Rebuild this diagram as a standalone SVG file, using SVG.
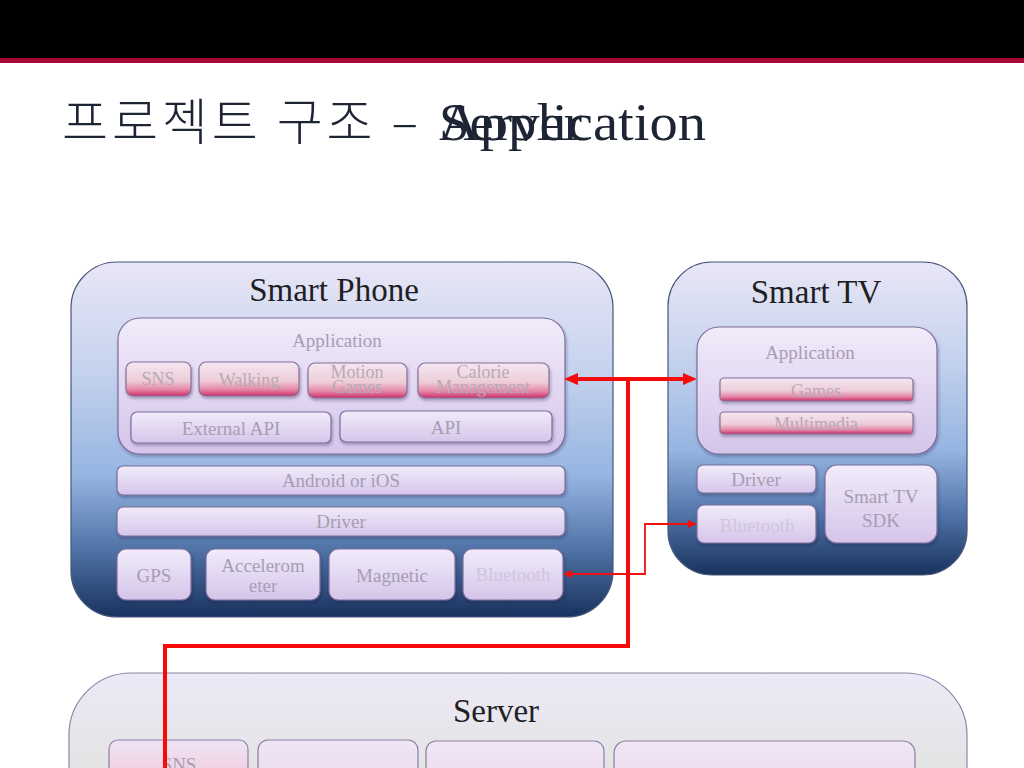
<svg xmlns="http://www.w3.org/2000/svg" width="1024" height="768" viewBox="0 0 1024 768">
<defs>
<style>
.serif{font-family:"Liberation Serif","DejaVu Serif",serif}
.ttl{font-family:"Liberation Serif","DejaVu Serif",serif;font-size:33px;fill:#1e1e24;text-anchor:middle}
.lbl{font-family:"Liberation Serif","DejaVu Serif",serif;font-size:19px;fill:#a79db2;text-anchor:middle}
.plbl{font-family:"Liberation Serif","DejaVu Serif",serif;font-size:18px;fill:#b8a9b6;text-anchor:middle}
.faint{fill:#cfc6dc}
.outer{fill:url(#blueBox);stroke:#45577a;stroke-width:1.2}
.inner{fill:url(#lav);stroke:#7b6e9c;stroke-width:1.2;filter:url(#sh)}
.pink{fill:url(#pinkG);stroke:#86709a;stroke-width:1.2;filter:url(#sh)}
.thick{stroke:#f70a0a;stroke-width:4;fill:none}
.thin{stroke:#f01010;stroke-width:1.8;fill:none}
</style>
<linearGradient id="blueBox" x1="0" y1="0" x2="0" y2="1">
<stop offset="0" stop-color="#e9e6f6"/>
<stop offset="0.3" stop-color="#c6d3ee"/>
<stop offset="0.6" stop-color="#96b5e1"/>
<stop offset="0.8" stop-color="#5376aa"/>
<stop offset="1" stop-color="#19325e"/>
</linearGradient>
<linearGradient id="lav" x1="0" y1="0" x2="0" y2="1">
<stop offset="0" stop-color="#f1ebfa"/>
<stop offset="1" stop-color="#d5c5ea"/>
</linearGradient>
<linearGradient id="pinkG" x1="0" y1="0" x2="0" y2="1">
<stop offset="0" stop-color="#f3e7f3"/>
<stop offset="0.55" stop-color="#edcdd7"/>
<stop offset="0.8" stop-color="#e58aa8"/>
<stop offset="1" stop-color="#cc2e6c"/>
</linearGradient>
<linearGradient id="srv" x1="0" y1="0" x2="0" y2="1">
<stop offset="0" stop-color="#ede9f7"/>
<stop offset="0.5" stop-color="#e3e3e3"/>
<stop offset="1" stop-color="#dcdcdc"/>
</linearGradient>
<linearGradient id="srvBox" x1="0" y1="0" x2="0" y2="1">
<stop offset="0" stop-color="#efe6f4"/>
<stop offset="1" stop-color="#ead6ec"/>
</linearGradient>
<linearGradient id="srvPink" x1="0" y1="0" x2="0" y2="1">
<stop offset="0" stop-color="#eee4f4"/>
<stop offset="1" stop-color="#f2bfd3"/>
</linearGradient>
<filter id="sh" x="-10%" y="-20%" width="120%" height="150%">
<feDropShadow dx="1" dy="2" stdDeviation="1.5" flood-color="#1a2040" flood-opacity="0.35"/>
</filter>
<marker id="ah" markerUnits="userSpaceOnUse" markerWidth="14" markerHeight="12" refX="6" refY="6" orient="auto-start-reverse">
<path d="M0,0 L14,6 L0,12 z" fill="#f70a0a"/>
</marker>
<marker id="ahs" markerUnits="userSpaceOnUse" markerWidth="9" markerHeight="8" refX="4" refY="4" orient="auto-start-reverse">
<path d="M0,0 L9,4 L0,8 z" fill="#f01010"/>
</marker>
</defs>

<rect x="0" y="0" width="1024" height="768" fill="#ffffff"/>

<g id="header">
<rect x="0" y="0" width="1024" height="58" fill="#000000"/>
<rect x="0" y="58" width="1024" height="5" fill="#a50b35"/>
</g>

<g id="title">
<text x="62" y="140" font-family="'Noto Sans CJK KR','Noto Sans CJK JP',sans-serif" font-weight="300" font-size="50" fill="#1d2535" textLength="356" lengthAdjust="spacing">프로젝트 구조 –</text>
<text x="439" y="140" class="serif" font-size="52" fill="#1d2535" textLength="267" lengthAdjust="spacingAndGlyphs">Application</text>
<text x="439" y="140" class="serif" font-size="52" fill="#1d2535" textLength="143" lengthAdjust="spacingAndGlyphs">Server</text>
</g>

<g id="smart-phone">
<rect class="outer" x="71" y="262" width="542" height="355" rx="46" ry="46"/>
<text class="ttl" x="334" y="301">Smart Phone</text>
<g id="sp-application">
<rect class="inner" x="118" y="318" width="447" height="136" rx="22" ry="22"/>
<text class="lbl" x="337" y="347" font-size="21">Application</text>
</g>
<g id="sp-sns"><rect class="pink" x="126" y="362" width="65" height="34" rx="7"/><text class="plbl" x="158" y="385">SNS</text></g>
<g id="sp-walking"><rect class="pink" x="199" y="362" width="100" height="34" rx="7"/><text class="plbl" x="249" y="386">Walking</text></g>
<g id="sp-motion"><rect class="pink" x="308" y="363" width="99" height="35" rx="7"/><text class="plbl" x="357" y="378">Motion</text><text class="plbl" x="357" y="393">Games</text></g>
<g id="sp-calorie"><rect class="pink" x="418" y="363" width="131" height="35" rx="7"/><text class="plbl" x="483" y="378">Calorie</text><text class="plbl" x="483" y="393">Management</text></g>
<g id="sp-extapi"><rect class="inner" x="131" y="412" width="200" height="31" rx="6"/><text class="lbl" x="231" y="435">External API</text></g>
<g id="sp-api"><rect class="inner" x="340" y="411" width="212" height="31" rx="6"/><text class="lbl" x="446" y="434">API</text></g>
<g id="sp-os"><rect class="inner" x="117" y="466" width="448" height="29" rx="6"/><text class="lbl" x="341" y="487">Android or iOS</text></g>
<g id="sp-driver"><rect class="inner" x="117" y="507" width="448" height="29" rx="6"/><text class="lbl" x="341" y="528">Driver</text></g>
<g id="sp-gps"><rect class="inner" x="117" y="549" width="74" height="51" rx="9"/><text class="lbl" x="154" y="582">GPS</text></g>
<g id="sp-accel"><rect class="inner" x="206" y="549" width="114" height="51" rx="9"/><text class="lbl" x="263" y="572">Accelerom</text><text class="lbl" x="263" y="592">eter</text></g>
<g id="sp-magnetic"><rect class="inner" x="329" y="549" width="126" height="51" rx="9"/><text class="lbl" x="392" y="582">Magnetic</text></g>
<g id="sp-bluetooth"><rect class="inner" x="463" y="549" width="100" height="51" rx="9"/><text class="lbl faint" x="513" y="581" font-size="17">Bluetooth</text></g>
</g>

<g id="smart-tv">
<rect class="outer" x="668" y="262" width="299" height="313" rx="44" ry="44"/>
<text class="ttl" x="816" y="303">Smart TV</text>
<g id="tv-application">
<rect class="inner" x="697" y="327" width="240" height="127" rx="22" ry="22"/>
<text class="lbl" x="810" y="359">Application</text>
</g>
<g id="tv-games"><rect class="pink" x="720" y="378" width="193" height="23" rx="4"/><text class="plbl" x="816" y="397">Games</text></g>
<g id="tv-multimedia"><rect class="pink" x="720" y="412" width="193" height="22" rx="4"/><text class="plbl" x="816" y="430">Multimedia</text></g>
<g id="tv-driver"><rect class="inner" x="697" y="465" width="119" height="28" rx="6"/><text class="lbl" x="756" y="486">Driver</text></g>
<g id="tv-bluetooth"><rect class="inner" x="697" y="505" width="119" height="38" rx="7"/><text class="lbl faint" x="757" y="532" font-size="18">Bluetooth</text></g>
<g id="tv-sdk"><rect class="inner" x="825" y="465" width="112" height="78" rx="12"/><text class="lbl" x="881" y="503">Smart TV</text><text class="lbl" x="881" y="527">SDK</text></g>
</g>

<g id="server">
<rect x="69" y="673" width="898" height="200" rx="62" ry="62" fill="url(#srv)" stroke="#8e86a8" stroke-width="1.2"/>
<text class="ttl" x="496" y="722" font-size="34">Server</text>
<g id="srv-sns"><rect x="109" y="740" width="139" height="60" rx="9" fill="url(#srvPink)" stroke="#8a80a4" stroke-width="1.2"/><text class="lbl" x="179" y="771">SNS</text></g>
<g id="srv-box2"><rect x="258" y="740" width="160" height="60" rx="10" fill="url(#srvBox)" stroke="#8a80a4" stroke-width="1.2"/></g>
<g id="srv-box3"><rect x="426" y="741" width="178" height="60" rx="10" fill="url(#srvBox)" stroke="#8a80a4" stroke-width="1.2"/></g>
<g id="srv-box4"><rect x="614" y="741" width="301" height="60" rx="12" fill="url(#srvBox)" stroke="#8a80a4" stroke-width="1.2"/></g>
</g>

<g id="connectors">
<path class="thick" d="M572,379 L689,379" marker-start="url(#ah)" marker-end="url(#ah)"/>
<path class="thick" d="M628,379 L628,646 L165,646 L165,770"/>
<path class="thin" d="M568,574 L645,574 L645,524 L692,524" marker-start="url(#ahs)" marker-end="url(#ahs)"/>
</g>
</svg>
